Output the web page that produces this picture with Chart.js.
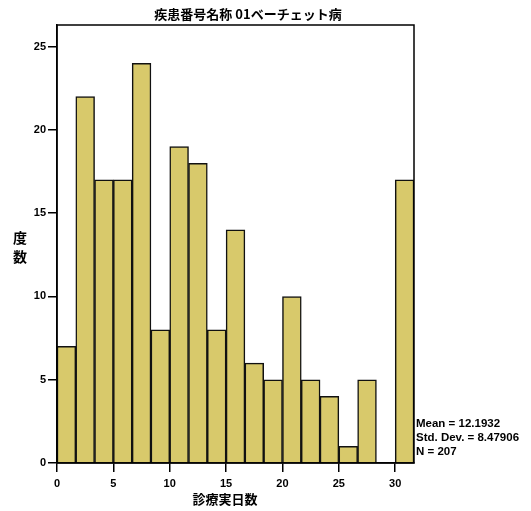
<!DOCTYPE html>
<html>
<head>
<meta charset="utf-8">
<script src="https://cdn.jsdelivr.net/npm/chart.js@4/dist/chart.umd.min.js"></script>
<style>
  html, body { margin: 0; padding: 0; background: #fff; }
  canvas { display: block; }
</style>
</head>
<body>
<canvas id="histChart" width="531" height="511"></canvas>
<script>
// Histogram bins (days) and counts
const binLabels = ["0-1.7", "1.7-3.3", "3.3-5", "5-6.7", "6.7-8.3", "8.3-10", "10-11.7", "11.7-13.3",
    "13.3-15", "15-16.7", "16.7-18.3", "18.3-20", "20-21.7", "21.7-23.3", "23.3-25", "25-26.7",
    "26.7-28.3", "28.3-30", "30-31.7"];
const counts = [7, 22, 17, 17, 24, 8, 19, 18, 8, 14, 6, 5, 10, 5, 4, 1, 5, 0, 17];
const xTicks = [0, 5, 10, 15, 20, 25, 30];
const yTicks = [0, 5, 10, 15, 20, 25];
const statLines = ["Mean = 12.1932", "Std. Dev. = 8.47906", "N = 207"];

const titleText = "疾患番号名称 01ベーチェット病";
const yTitle = ["度", "数"];
const xTitle = "診療実日数";

// Extra texts and the closed plot frame
const spssDecor = {
    id: "spssDecor",
    afterDraw(chart) {
        const ctx = chart.ctx;
        const a = chart.chartArea;
        ctx.save();
        ctx.strokeStyle = "#000";
        ctx.lineWidth = 1.5;
        ctx.strokeRect(a.left, a.top, a.right - a.left, a.bottom - a.top);

        ctx.fillStyle = "#000";
        ctx.textAlign = "center";
        ctx.textBaseline = "middle";
        ctx.font = 'bold 13px "Noto Sans CJK JP"';
        ctx.fillText(titleText, 248, 14);

        ctx.font = 'bold 14px "Noto Sans CJK JP"';
        yTitle.forEach((ch, i) => ctx.fillText(ch, 20, 238 + i * 19));
        ctx.font = 'bold 13px "Noto Sans CJK JP"';
        ctx.fillText(xTitle, 225, 499);

        ctx.textAlign = "left";
        ctx.font = 'bold 11.5px "Liberation Sans"';
        statLines.forEach((t, i) => ctx.fillText(t, a.right + 2, 424 + i * 14));
        ctx.restore();
    }
};

const histChart = new Chart(document.getElementById("histChart"), {
    type: "bar",
    data: {
        labels: binLabels,
        datasets: [{
            label: "度数",
            data: counts,
            backgroundColor: "#D8C96B",
            borderColor: "#111",
            borderWidth: 1.5,
            barPercentage: 1,
            categoryPercentage: 1
        }]
    },
    options: {
        responsive: false,
        animation: false,
        layout: { padding: { left: 0, right: 117, top: 25, bottom: 0 } },
        plugins: {
            legend: { display: false },
            tooltip: { enabled: false }
        },
        scales: {
            x: { display: false },
            xv: {
                type: "linear",
                position: "bottom",
                offset: false,
                min: 0,
                max: 31.67,
                afterBuildTicks: s => { s.ticks = xTicks.map(v => ({ value: v })); },
                afterFit: s => { s.height = 48; },
                grid: { offset: false, drawOnChartArea: false, drawTicks: true, tickLength: 9, color: "#000", lineWidth: 1.5 },
                border: { display: true, color: "#000", width: 1.5 },
                ticks: { color: "#000", font: { family: "Liberation Sans", size: 11, weight: "bold" }, padding: 5, maxRotation: 0 }
            },
            y: {
                min: 0,
                max: 26.3,
                afterBuildTicks: s => { s.ticks = yTicks.map(v => ({ value: v })); },
                afterFit: s => { s.width = 57; },
                grid: { drawOnChartArea: false, drawTicks: true, tickLength: 9, color: "#000", lineWidth: 1.5 },
                border: { display: true, color: "#000", width: 1.5 },
                ticks: { color: "#000", font: { family: "Liberation Sans", size: 11, weight: "bold" }, padding: 2 }
            }
        }
    },
    plugins: [spssDecor]
});
</script>
</body>
</html>
